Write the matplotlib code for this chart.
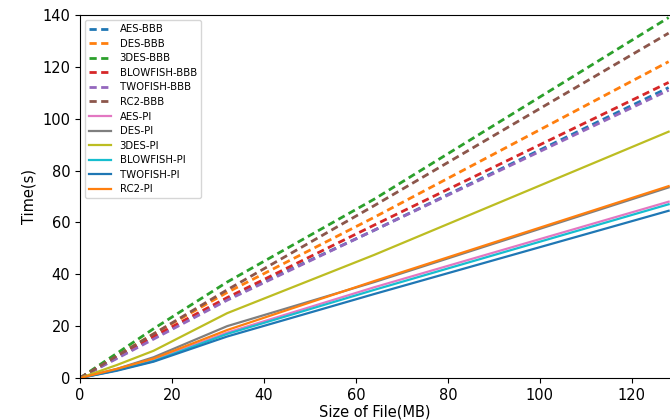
import matplotlib
matplotlib.use("Agg")
import matplotlib.pyplot as plt

sizes = [0, 8, 16, 32, 64, 128]

aes_bbb = [0, 7.8, 15.5, 30.5, 57, 112]
des_bbb = [0, 8.5, 17, 33, 62, 122]
des3_bbb = [0, 9.5, 19, 37, 69, 139]
blowfish_bbb = [0, 8, 16, 31, 59, 114]
twofish_bbb = [0, 7.5, 15, 30, 57, 111]
rc2_bbb = [0, 8.5, 17, 34, 66.5, 133]

aes_pi = [0, 3, 7, 17.5, 35, 68]
des_pi = [0, 3.5, 8, 20, 37, 73.5]
des3_pi = [0, 5, 10.5, 25, 47.5, 95]
blowfish_pi = [0, 3, 6.5, 17, 34, 67]
twofish_pi = [0, 2.8, 6.3, 16, 32.4, 64.5]
rc2_pi = [0, 3.5, 7.5, 18.5, 37.4, 74]

bbb_series = [("AES-BBB", aes_bbb), ("DES-BBB", des_bbb), ("3DES-BBB", des3_bbb),
              ("BLOWFISH-BBB", blowfish_bbb), ("TWOFISH-BBB", twofish_bbb), ("RC2-BBB", rc2_bbb)]
pi_series = [("AES-PI", aes_pi), ("DES-PI", des_pi), ("3DES-PI", des3_pi),
             ("BLOWFISH-PI", blowfish_pi), ("TWOFISH-PI", twofish_pi), ("RC2-PI", rc2_pi)]

fig = plt.figure(figsize=(6.7, 4.2), dpi=100)
ax = fig.add_axes([80/670, 1-378/420, 1-80/670, (378-15)/420])

for name, vals in bbb_series:
    ax.plot(sizes, vals, linestyle=(0, (2.6, 1.6)), linewidth=2, label=name)
for name, vals in pi_series:
    ax.plot(sizes, vals, linestyle="-", linewidth=1.6, label=name)

ax.set_xlim(0, 128.3)
ax.set_ylim(0, 140)
ax.set_xticks([0, 20, 40, 60, 80, 100, 120])
ax.set_yticks([0, 20, 40, 60, 80, 100, 120, 140])
ax.tick_params(labelsize=10.5)
ax.spines["right"].set_visible(False)
ax.set_xlabel("Size of File(MB)", fontsize=10.5, labelpad=1)
ax.set_ylabel("Time(s)", fontsize=10.5)
ax.legend(loc="upper left", fontsize=7.3, handlelength=2.2, labelspacing=0.45)

fig.savefig("out.png", dpi=100)
